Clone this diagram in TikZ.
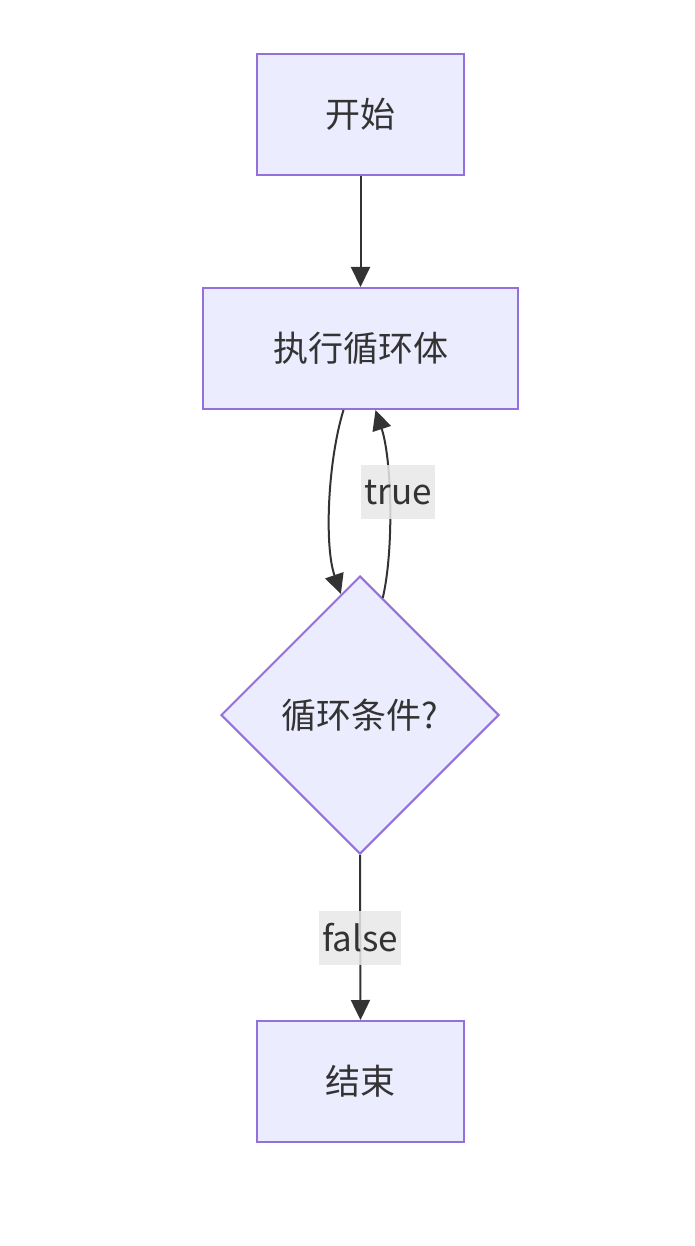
\documentclass[tikz,border=0pt]{standalone}
\usepackage{fontspec}
\setmainfont{Noto Sans CJK SC}
\usetikzlibrary{arrows.meta, shapes.geometric, calc}
\definecolor{cfill}{HTML}{ECECFF}
\definecolor{cline}{HTML}{9370DB}
\definecolor{ctext}{HTML}{333333}
\definecolor{clabel}{HTML}{E8E8E8}
\tikzset{
  every picture/.style={font=\fontsize{35}{42}\selectfont, text=ctext},
  box/.style={draw=cline, fill=cfill, line width=2pt, minimum height=121pt, inner sep=0pt},
  cond/.style={shape=diamond, draw=cline, fill=cfill, line width=2pt, minimum width=278pt, minimum height=278pt, inner sep=0pt},
  arrow/.style={-{Triangle[length=20pt, width=19pt]}, draw=ctext, line width=2pt},
  tag/.style={fill=clabel, fill opacity=0.85, text opacity=1, minimum height=54pt, inner xsep=3pt, inner ysep=0pt},
}
\begin{document}
\begin{tikzpicture}[x=1pt, y=-1pt]
  \useasboundingbox (0,0) rectangle (694,1246);
  \node[box, minimum width=207pt] (start) at (360.5,114.5) {开始};
  \node[box, minimum width=315pt] (body) at (360.5,348.5) {执行循环体};
  \node[cond] (check) at (360,715) {循环条件?};
  \node[box, minimum width=207pt] (stop) at (360.5,1081.5) {结束};
  \draw[arrow] (start) -- (body);
  \draw[arrow] ($(body.south)+(-17,0)$) .. controls (328,460) and (324,545) .. (check.99.5);
  \draw[arrow] (check.79) .. controls (394,550) and (392,460) .. ($(body.south)+(15,0)$)
    node[tag, pos=0.56, xshift=9pt] (yes) {true};
  \draw[arrow] (check.south) -- (stop.north)
    node[tag, pos=0.5] (no) {false};
\end{tikzpicture}
\end{document}
